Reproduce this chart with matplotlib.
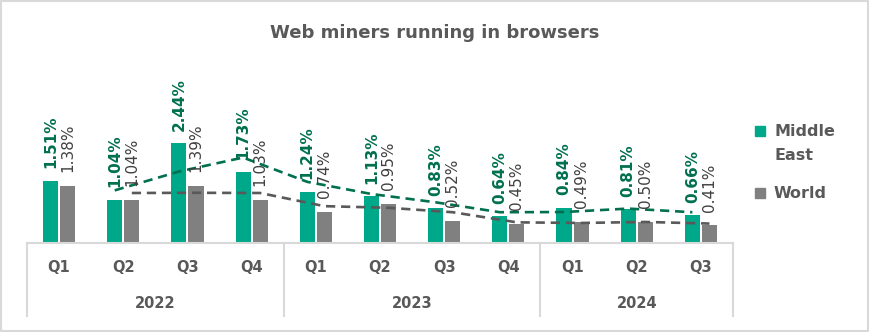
import matplotlib
matplotlib.use("Agg")
import matplotlib.pyplot as plt
import numpy as np
from matplotlib.patches import Rectangle
from matplotlib.lines import Line2D

# Quarterly share of users with web miners running in browsers
quarters = ["Q1", "Q2", "Q3", "Q4", "Q1", "Q2", "Q3", "Q4", "Q1", "Q2", "Q3"]
years = ["2022", "2023", "2024"]
quarters_per_year = [4, 4, 3]
middle_east = [1.51, 1.04, 2.44, 1.73, 1.24, 1.13, 0.83, 0.64, 0.84, 0.81, 0.66]
world = [1.38, 1.04, 1.39, 1.03, 0.74, 0.95, 0.52, 0.45, 0.49, 0.50, 0.41]

TEAL = "#00A88A"
DARK_TEAL = "#00704F"
GRAY = "#808080"
DARK_GRAY = "#595959"
LABEL_GRAY = "#404040"
GRID = "#D9D9D9"

W, H = 869, 332
fig = plt.figure(figsize=(W / 100, H / 100), dpi=100)


def fx(px):
    return px / W


def fy(py):
    return 1 - py / H


# plot area in pixel coordinates
left, right, base, top = 27, 733, 242, 60
px_per_unit = 40.5
ax = fig.add_axes([fx(left), fy(base), fx(right - left), (base - top) / H])
ax.set_ylim(0, (base - top) / px_per_unit)
ax.set_xlim(-0.5, len(quarters) - 0.5)
ax.axis("off")

x = np.arange(len(quarters))
bw, off = 0.235, 0.133
ax.bar(x - off, middle_east, bw, color=TEAL, zorder=2)
ax.bar(x + off, world, bw, color=GRAY, zorder=2)


def moving_avg(v):
    return [(v[i - 1] + v[i]) / 2 for i in range(1, len(v))]


ax.plot(x[1:] - off, moving_avg(middle_east), ls=(0, (3.5, 2.2)), color=DARK_TEAL,
        lw=1.9, zorder=3, clip_on=False)
ax.plot(x[1:] + off, moving_avg(world), ls=(0, (3.5, 2.2)), color=DARK_GRAY,
        lw=1.9, zorder=3, clip_on=False)

for xi, v in zip(x, middle_east):
    ax.annotate(f"{v:.2f}%", (xi - off, v), xytext=(0, 9), textcoords="offset points",
                rotation=90, ha="center", va="bottom", fontsize=11,
                fontweight="bold", color=DARK_TEAL, annotation_clip=False, zorder=4)
for xi, v in zip(x, world):
    ax.annotate(f"{v:.2f}%", (xi + off, v), xytext=(0, 10), textcoords="offset points",
                rotation=90, ha="center", va="bottom", fontsize=11,
                color=LABEL_GRAY, annotation_clip=False, zorder=4)

# two-level category axis
cat_w = (right - left) / len(quarters)
axis_bottom = 316
fig.add_artist(Line2D([fx(left), fx(right)], [fy(base + 1), fy(base + 1)],
                      color=GRID, lw=1.5))
edges = np.concatenate([[0], np.cumsum(quarters_per_year)])
for e in edges:
    px = left + e * cat_w
    fig.add_artist(Line2D([fx(px), fx(px)], [fy(base + 1), fy(axis_bottom)],
                          color=GRID, lw=1.5))
for i, q in enumerate(quarters):
    fig.text(fx(left + (i + 0.5) * cat_w), fy(268), q, ha="center", va="center",
             fontsize=10.5, fontweight="bold", color=DARK_GRAY)
for k, yr in enumerate(years):
    cx = left + (edges[k] + edges[k + 1]) / 2 * cat_w
    fig.text(fx(cx), fy(303), yr, ha="center", va="center",
             fontsize=10.5, fontweight="bold", color=DARK_GRAY)

# title
fig.text(fx(435), fy(33), "Web miners running in browsers", ha="center", va="center",
         fontsize=13, fontweight="bold", color=DARK_GRAY)

# legend
fig.add_artist(Rectangle((fx(755), fy(136)), fx(10), 10 / H, color=TEAL))
fig.text(fx(774), fy(131), "Middle", ha="left", va="center", fontsize=11.5,
         fontweight="bold", color=DARK_GRAY)
fig.text(fx(774), fy(155), "East", ha="left", va="center", fontsize=11.5,
         fontweight="bold", color=DARK_GRAY)
fig.add_artist(Rectangle((fx(755), fy(198)), fx(10), 10 / H, color=GRAY))
fig.text(fx(774), fy(193), "World", ha="left", va="center", fontsize=11.5,
         fontweight="bold", color=DARK_GRAY)

# chart border
fig.add_artist(Rectangle((fx(1), fy(331)), fx(867), 330 / H, fill=False,
                         edgecolor=GRID, lw=1.5))

fig.savefig("out.png", dpi=100)
